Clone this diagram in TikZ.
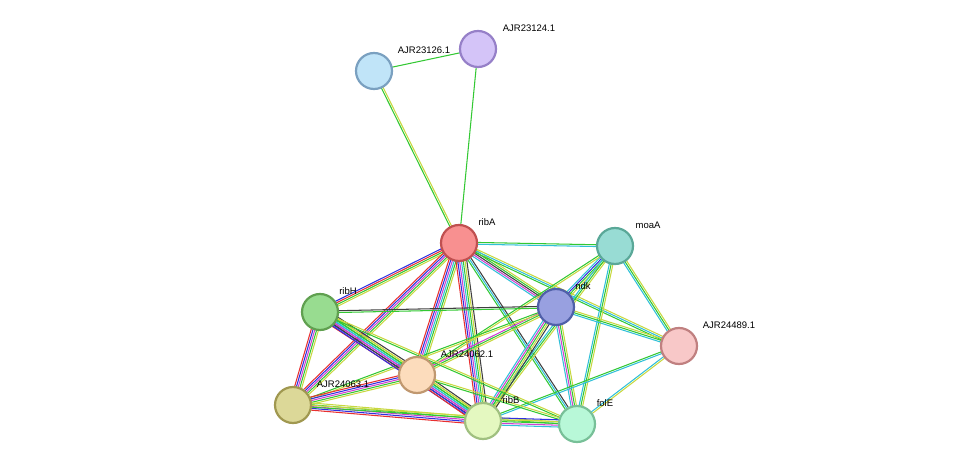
\documentclass[tikz,border=0pt]{standalone}
\usepackage{fontspec}
\setmainfont{Liberation Sans}
\usetikzlibrary{calc,backgrounds}
\definecolor{cG}{HTML}{33C833}
\definecolor{cY}{HTML}{C8D840}
\definecolor{cC}{HTML}{30C0D8}
\definecolor{cM}{HTML}{D040D0}
\definecolor{cK}{HTML}{404040}
\definecolor{cR}{HTML}{E83030}
\definecolor{cB}{HTML}{3030E0}
\newcommand{\sedge}[4]{% from, to, n, colors
  \foreach \c [count=\i] in {#4}{
    \pgfmathsetmacro{\off}{(\i-(#3+1)/2)*1.8}
    \draw[line width=1.05pt,\c] ($(#1)!\off pt!90:(#2)$) -- ($(#2)!\off pt!-90:(#1)$);
  }}
\tikzset{prot/.style={circle,minimum size=36pt,inner sep=0pt,line width=2.2pt},
  lab/.style={font=\fontsize{9.5pt}{11pt}\selectfont,text=black}}
\begin{document}
\begin{tikzpicture}[x=1pt,y=-1pt]
\useasboundingbox (0,0) rectangle (976,470);
\node[prot,fill={rgb,255:red,192;green,228;blue,248},draw={rgb,255:red,122;green,160;blue,192}] (n1) at (374,71) {};
\node[prot,fill={rgb,255:red,212;green,196;blue,248},draw={rgb,255:red,150;green,128;blue,200}] (n2) at (478,49) {};
\node[prot,fill={rgb,255:red,248;green,144;blue,144},draw={rgb,255:red,192;green,80;blue,80}] (ribA) at (459,243) {};
\node[prot,fill={rgb,255:red,152;green,220;blue,212},draw={rgb,255:red,90;green,168;blue,152}] (moaA) at (615,246) {};
\node[prot,fill={rgb,255:red,152;green,160;blue,224},draw={rgb,255:red,80;green,96;blue,168}] (ndk) at (556,307) {};
\node[prot,fill={rgb,255:red,248;green,200;blue,200},draw={rgb,255:red,192;green,128;blue,128}] (n89) at (679,346) {};
\node[prot,fill={rgb,255:red,152;green,220;blue,144},draw={rgb,255:red,96;green,160;blue,80}] (ribH) at (320,312) {};
\node[prot,fill={rgb,255:red,252;green,220;blue,188},draw={rgb,255:red,192;green,152;blue,112}] (n62) at (417,375) {};
\node[prot,fill={rgb,255:red,220;green,216;blue,152},draw={rgb,255:red,160;green,152;blue,80}] (n63) at (293,405) {};
\node[prot,fill={rgb,255:red,228;green,248;blue,192},draw={rgb,255:red,160;green,192;blue,128}] (ribB) at (483,421) {};
\node[prot,fill={rgb,255:red,184;green,248;blue,216},draw={rgb,255:red,120;green,192;blue,152}] (folE) at (577,424) {};
\begin{scope}[on background layer]
\sedge{n1}{n2}{1}{cG}
\sedge{n1}{ribA}{2}{cG,cY}
\sedge{n2}{ribA}{1}{cG}
\sedge{ribA}{moaA}{2}{cC,cG}
\sedge{ribA}{ndk}{5}{cC,cM,cK,cG,cY}
\sedge{ribA}{ribH}{4}{cB,cR,cG,cY}
\sedge{ribA}{n62}{6}{cR,cB,cM,cC,cG,cY}
\sedge{ribA}{n63}{5}{cR,cB,cM,cG,cY}
\sedge{ribA}{ribB}{7}{cR,cB,cM,cC,cG,cY,cK}
\sedge{ribA}{folE}{3}{cG,cC,cK}
\sedge{ribA}{n89}{3}{cG,cC,cY}
\sedge{moaA}{ndk}{4}{cC,cB,cG,cY}
\sedge{moaA}{n89}{3}{cC,cG,cY}
\sedge{moaA}{folE}{3}{cC,cG,cY}
\sedge{moaA}{ribB}{3}{cC,cG,cY}
\sedge{moaA}{n62}{2}{cG,cY}
\sedge{ndk}{n89}{3}{cC,cG,cY}
\sedge{ndk}{ribH}{2}{cK,cG}
\sedge{ndk}{n62}{3}{cM,cG,cY}
\sedge{ndk}{ribB}{5}{cC,cM,cG,cY,cK}
\sedge{ndk}{folE}{4}{cC,cM,cG,cY}
\sedge{ndk}{n63}{2}{cG,cY}
\sedge{n89}{ribB}{2}{cG,cC}
\sedge{n89}{folE}{2}{cC,cY}
\sedge{ribH}{n62}{7}{cR,cB,cM,cC,cG,cY,cK}
\sedge{ribH}{n63}{5}{cR,cB,cM,cG,cY}
\sedge{ribH}{ribB}{6}{cB,cK,cM,cC,cG,cY}
\sedge{ribH}{folE}{2}{cG,cY}
\sedge{n62}{n63}{5}{cR,cB,cM,cG,cY}
\sedge{n62}{ribB}{7}{cR,cB,cM,cC,cG,cY,cK}
\sedge{n62}{folE}{2}{cG,cY}
\sedge{n63}{ribB}{5}{cR,cB,cM,cG,cY}
\sedge{n63}{folE}{2}{cG,cY}
\sedge{ribB}{folE}{5}{cC,cM,cG,cY,cB}
\end{scope}
\node[lab] (l1) at (424,50) {AJR23126.1};
\node[lab] (l2) at (529,28) {AJR23124.1};
\node[lab] (l3) at (487,222) {ribA};
\node[lab] (l4) at (648,225) {moaA};
\node[lab] (l5) at (583,286) {ndk};
\node[lab] (l6) at (729,325) {AJR24489.1};
\node[lab] (l7) at (348,291) {ribH};
\node[lab] (l8) at (467,354) {AJR24062.1};
\node[lab] (l9) at (343,384) {AJR24063.1};
\node[lab] (l10) at (511,400) {ribB};
\node[lab] (l11) at (605,403) {folE};
\end{tikzpicture}
\end{document}
